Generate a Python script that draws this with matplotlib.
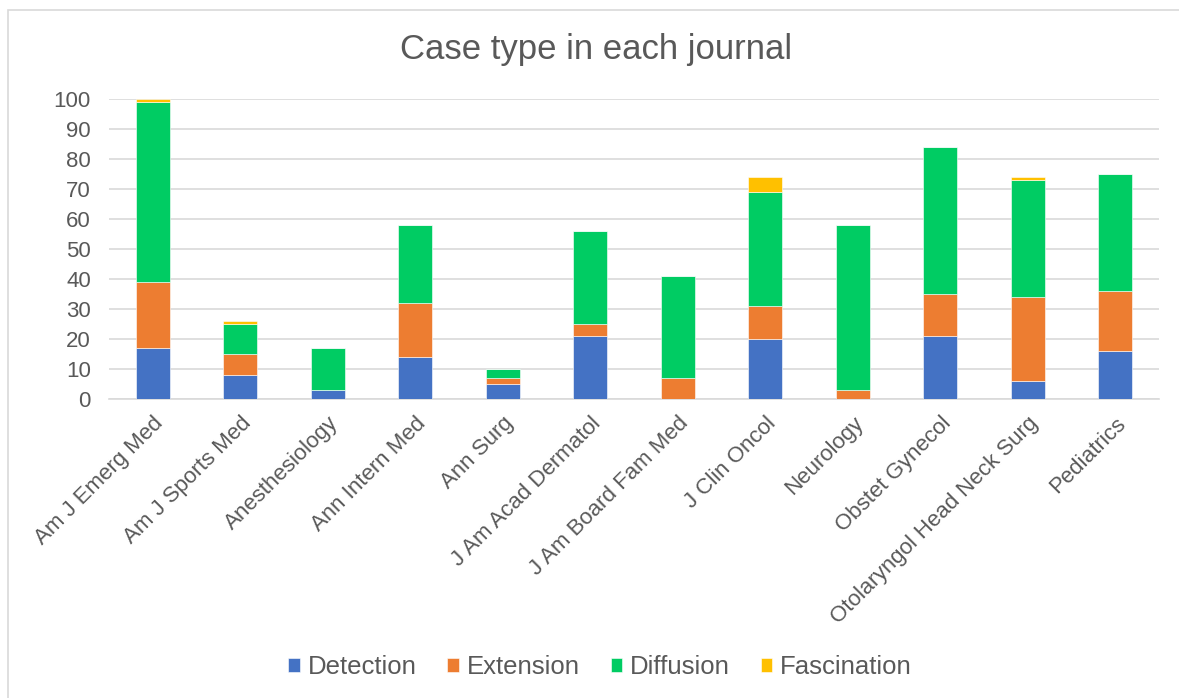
import matplotlib
matplotlib.use("Agg")
import matplotlib.pyplot as plt
from matplotlib.patches import Rectangle
import numpy as np

plt.rcParams['font.family'] = ['Liberation Sans', 'DejaVu Sans']

journals = ["Am J Emerg Med", "Am J Sports Med", "Anesthesiology", "Ann Intern Med",
            "Ann Surg", "J Am Acad Dermatol", "J Am Board Fam Med", "J Clin Oncol",
            "Neurology", "Obstet Gynecol", "Otolaryngol Head Neck Surg", "Pediatrics"]
detection   = [17, 8, 3, 14, 5, 21, 0, 20, 0, 21, 6, 16]
extension   = [22, 7, 0, 18, 2, 4, 7, 11, 3, 14, 28, 20]
diffusion   = [60, 10, 14, 26, 3, 31, 34, 38, 55, 49, 39, 39]
fascination = [1, 1, 0, 0, 0, 0, 0, 5, 0, 0, 1, 0]

series = [("Detection", detection, "#4472C4"),
          ("Extension", extension, "#ED7D31"),
          ("Diffusion", diffusion, "#00CC63"),
          ("Fascination", fascination, "#FFC000")]

W, H = 1179, 698
fig = plt.figure(figsize=(W / 100, H / 100), dpi=100)
ax = fig.add_axes([109 / W, (H - 399) / H, (1159 - 109) / W, 300 / H])

text_color = "#595959"
grid_color = "#D9D9D9"

x = np.arange(len(journals))
bottom = np.zeros(len(journals))
for name, vals, col in series:
    ax.bar(x, vals, width=0.39, bottom=bottom, color=col, label=name,
           edgecolor="white", linewidth=0.4, zorder=3)
    bottom += np.array(vals)

ax.set_xlim(-0.5, len(journals) - 0.5)
ax.set_ylim(0, 100)
ax.set_yticks(range(0, 101, 10))
ax.yaxis.grid(True, color=grid_color, linewidth=1.2, zorder=0)
ax.set_axisbelow(True)
for s in ["top", "right", "left"]:
    ax.spines[s].set_visible(False)
ax.spines["bottom"].set_color(grid_color)
ax.spines["bottom"].set_linewidth(1.2)

ax.tick_params(axis="y", length=0, pad=13, labelsize=16, labelcolor=text_color)
ax.tick_params(axis="x", length=0, pad=10, labelsize=16, labelcolor=text_color)
ax.set_xticks(x)
ax.set_xticklabels(journals, rotation=45, ha="right", rotation_mode="anchor")

fig.text(596 / W, 1 - 50 / H, "Case type in each journal", ha="center", va="center",
         fontsize=25, color=text_color)

leg = fig.legend(loc="center", bbox_to_anchor=(600 / W, 1 - 667 / H), ncol=4,
                 frameon=False, fontsize=18.5, handlelength=0.45, handleheight=0.45,
                 handletextpad=0.3, columnspacing=1.2, labelcolor=text_color)

fig.patches.append(Rectangle((8 / W, -0.05), 1.2, 1 - 10 / H + 0.05, transform=fig.transFigure,
                             fill=False, edgecolor="#D9D9D9", linewidth=1.2))

fig.savefig("out.png", dpi=100, facecolor="white")
